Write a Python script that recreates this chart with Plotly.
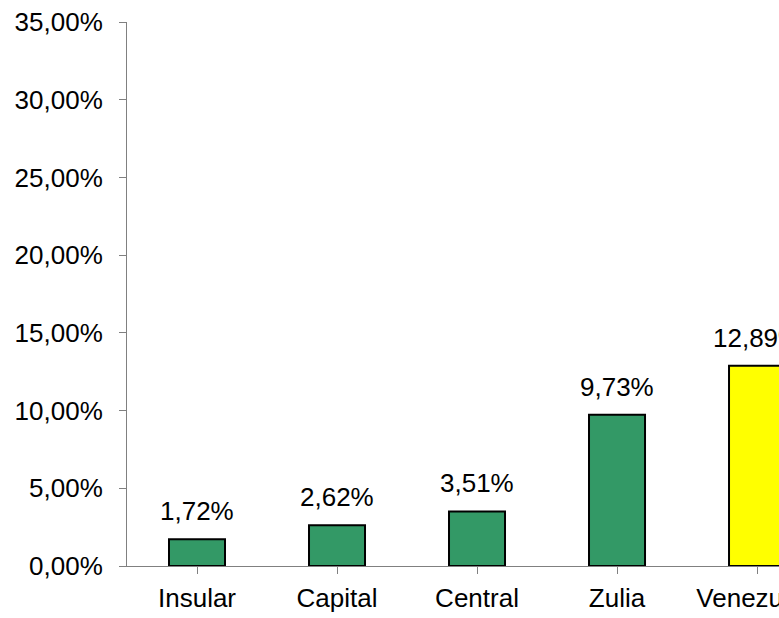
import plotly.graph_objects as go

regions = ["Insular", "Capital", "Central", "Zulia", "Venezuela"]
values = [1.72, 2.62, 3.51, 9.73, 12.89]
bar_colors = ["#339966", "#339966", "#339966", "#339966", "#FFFF00"]
y_ticks = [0, 5, 10, 15, 20, 25, 30, 35]

font = dict(family="Liberation Sans, Arial, sans-serif", size=26, color="black")

fig = go.Figure()
fig.add_trace(go.Bar(
    x=list(range(len(regions))),
    y=values,
    width=0.4,
    marker=dict(color=bar_colors, line=dict(color="black", width=2)),
    hoverinfo="skip",
))

# data labels above the bars (the last one runs off the page, as in the source)
for i, v in enumerate(values):
    fig.add_annotation(
        x=i, y=v, text=f"{v:.2f}%".replace(".", ","),
        showarrow=False, yanchor="bottom", yshift=11, font=font,
    )

fig.update_xaxes(
    range=[-0.5, 4.157],
    tickmode="array", tickvals=list(range(len(regions))), ticktext=regions,
    tickson="boundaries", ticks="outside", ticklen=7, tickcolor="#808080",
    showline=True, linecolor="#808080", linewidth=1,
    showgrid=False, zeroline=False, automargin=False,
    ticklabeloverflow="allow", ticklabelstandoff=2, tickfont=font,
)
fig.update_yaxes(
    range=[0, 35],
    tickmode="array", tickvals=y_ticks,
    ticktext=[f"{t:.2f}%".replace(".", ",") for t in y_ticks],
    ticks="outside", ticklen=7, tickcolor="#808080",
    showline=True, linecolor="#808080", linewidth=1,
    showgrid=False, zeroline=False, automargin=False,
    ticklabelstandoff=11, tickfont=font,
)
fig.update_layout(
    width=779, height=618,
    margin=dict(l=127, r=0, t=22, b=52),
    paper_bgcolor="white", plot_bgcolor="white",
    showlegend=False, font=font,
)

fig.write_html("out.html", config={"displayModeBar": False},
               post_script="document.body.style.margin='0';")
